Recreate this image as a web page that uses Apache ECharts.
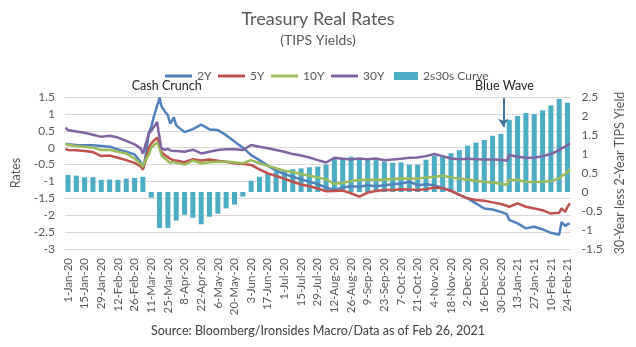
<!DOCTYPE html>
<html><head><meta charset="utf-8">
<script src="https://cdn.jsdelivr.net/npm/echarts@6/dist/echarts.min.js"></script>
<style>html,body{margin:0;padding:0;background:#fff}#c{width:636px;height:347px}</style>
</head><body><div id="c"></div>
<script>
// ---------- data ----------
const tickLabels = ['1-Jan-20','15-Jan-20','29-Jan-20','12-Feb-20','26-Feb-20','11-Mar-20','25-Mar-20','8-Apr-20','22-Apr-20','6-May-20','20-May-20','3-Jun-20','17-Jun-20','1-Jul-20','15-Jul-20','29-Jul-20','12-Aug-20','26-Aug-20','9-Sep-20','23-Sep-20','7-Oct-20','21-Oct-20','4-Nov-20','18-Nov-20','2-Dec-20','16-Dec-20','30-Dec-20','13-Jan-21','27-Jan-21','10-Feb-21','24-Feb-21'];

const weekDates = ['2020-01-01','2020-01-08','2020-01-15','2020-01-22','2020-01-29','2020-02-05','2020-02-12','2020-02-19','2020-02-26','2020-03-04',
'2020-03-11','2020-03-18','2020-03-25','2020-04-01','2020-04-08','2020-04-15','2020-04-22','2020-04-29','2020-05-06','2020-05-13',
'2020-05-20','2020-05-27','2020-06-03','2020-06-10','2020-06-17','2020-06-24','2020-07-01','2020-07-08','2020-07-15','2020-07-22',
'2020-07-29','2020-08-05','2020-08-12','2020-08-19','2020-08-26','2020-09-02','2020-09-09','2020-09-16','2020-09-23','2020-09-30',
'2020-10-07','2020-10-14','2020-10-21','2020-10-28','2020-11-04','2020-11-11','2020-11-18','2020-11-25','2020-12-02','2020-12-09',
'2020-12-16','2020-12-23','2020-12-30','2021-01-06','2021-01-13','2021-01-20','2021-01-27','2021-02-03','2021-02-10','2021-02-17',
'2021-02-24'];
const curve2s30s = [0.45,0.43,0.39,0.39,0.32,0.33,0.32,0.35,0.37,0.40,
-0.15,-0.95,-0.95,-0.75,-0.60,-0.68,-0.85,-0.65,-0.57,-0.43,
-0.33,-0.12,0.30,0.40,0.49,0.53,0.58,0.60,0.62,0.65,
0.67,0.72,0.89,0.90,0.93,0.86,0.84,0.84,0.80,0.77,
0.78,0.72,0.72,0.85,0.95,0.95,1.02,1.10,1.22,1.30,
1.37,1.48,1.53,1.90,2.00,2.08,2.05,2.15,2.28,2.45,
2.35];

const lineDates = ['2019-12-30','2020-01-01','2020-01-08','2020-01-15','2020-01-22','2020-01-29','2020-02-05','2020-02-12','2020-02-19','2020-02-26',
'2020-03-02','2020-03-04','2020-03-06','2020-03-09','2020-03-11','2020-03-13','2020-03-16','2020-03-17','2020-03-18','2020-03-19',
'2020-03-20','2020-03-23','2020-03-25','2020-03-27','2020-03-30','2020-04-01','2020-04-08','2020-04-15','2020-04-22','2020-04-29',
'2020-05-06','2020-05-13','2020-05-20','2020-05-27','2020-06-03','2020-06-10','2020-06-17','2020-06-24','2020-07-01','2020-07-08',
'2020-07-15','2020-07-22','2020-07-29','2020-08-05','2020-08-12','2020-08-19','2020-08-26','2020-09-02','2020-09-09','2020-09-16',
'2020-09-23','2020-09-30','2020-10-07','2020-10-14','2020-10-21','2020-10-28','2020-11-04','2020-11-11','2020-11-18','2020-11-25',
'2020-12-02','2020-12-09','2020-12-16','2020-12-23','2020-12-30','2021-01-04','2021-01-06','2021-01-13','2021-01-20','2021-01-27',
'2021-02-03','2021-02-10','2021-02-17','2021-02-19','2021-02-22','2021-02-24','2021-02-26'];

const y2 = [0.12,0.10,0.08,0.07,0.07,0.05,0.03,-0.05,-0.12,-0.20,
-0.42,-0.60,-0.30,0.45,0.60,0.90,1.25,1.35,1.48,1.30,
1.20,1.05,0.96,0.71,0.90,0.66,0.46,0.55,0.68,0.54,
0.52,0.37,0.18,0.00,-0.22,-0.37,-0.53,-0.68,-0.78,-0.86,
-0.94,-1.01,-1.08,-1.18,-1.25,-1.18,-1.14,-1.16,-1.11,-1.14,
-1.11,-1.08,-1.06,-1.01,-1.11,-1.08,-1.11,-1.20,-1.27,-1.40,
-1.50,-1.65,-1.80,-1.83,-1.90,-1.97,-2.14,-2.24,-2.39,-2.34,
-2.42,-2.52,-2.58,-2.20,-2.32,-2.26,-2.25];

const y5 = [-0.03,-0.07,-0.08,-0.10,-0.13,-0.25,-0.23,-0.30,-0.37,-0.45,
-0.55,-0.65,-0.42,0.00,0.12,0.20,0.30,0.25,0.12,-0.05,
-0.15,-0.23,-0.28,-0.33,-0.38,-0.38,-0.43,-0.34,-0.38,-0.35,
-0.39,-0.42,-0.46,-0.48,-0.51,-0.64,-0.76,-0.84,-0.92,-1.01,
-1.09,-1.14,-1.21,-1.29,-1.28,-1.27,-1.35,-1.45,-1.33,-1.28,
-1.25,-1.25,-1.23,-1.24,-1.25,-1.23,-1.18,-1.20,-1.28,-1.40,
-1.50,-1.55,-1.57,-1.62,-1.67,-1.72,-1.75,-1.65,-1.75,-1.80,
-1.85,-1.95,-1.93,-1.80,-1.90,-1.75,-1.65];

const y10 = [0.12,0.08,0.05,0.03,0.00,-0.07,-0.06,-0.12,-0.17,-0.33,
-0.47,-0.57,-0.38,-0.20,0.00,0.07,0.15,0.10,0.00,-0.15,
-0.25,-0.33,-0.40,-0.45,-0.42,-0.45,-0.50,-0.38,-0.46,-0.43,
-0.42,-0.42,-0.43,-0.46,-0.37,-0.46,-0.54,-0.61,-0.68,-0.72,
-0.78,-0.83,-0.88,-0.94,-1.07,-1.04,-0.99,-0.96,-0.94,-0.96,
-0.94,-0.93,-0.91,-0.92,-0.91,-0.88,-0.86,-0.83,-0.88,-0.92,
-0.94,-0.98,-1.01,-1.03,-1.07,-1.10,-0.96,-0.96,-1.01,-1.02,
-1.01,-0.99,-0.91,-0.84,-0.78,-0.71,-0.64];

const y30 = [0.59,0.52,0.48,0.44,0.38,0.32,0.35,0.30,0.20,0.10,
-0.02,-0.18,0.07,0.41,0.50,0.60,0.76,0.50,0.30,0.05,
-0.03,-0.07,-0.03,-0.08,-0.10,-0.10,-0.12,-0.06,-0.17,-0.12,
-0.07,-0.05,-0.05,-0.07,0.08,0.03,-0.02,-0.07,-0.12,-0.19,
-0.23,-0.29,-0.37,-0.44,-0.30,-0.33,-0.35,-0.32,-0.34,-0.32,
-0.37,-0.35,-0.33,-0.30,-0.29,-0.25,-0.19,-0.25,-0.32,-0.34,
-0.33,-0.34,-0.35,-0.35,-0.36,-0.39,-0.22,-0.27,-0.30,-0.30,
-0.25,-0.19,-0.07,-0.02,0.03,0.08,0.13];

// ---------- axis categories: every calendar day ----------
const axisStartUTC = Date.UTC(2019, 11, 30);
const axisDayCount = 425;
const firstLabelIndex = 2; // 2020-01-01
const labelEvery = 14;
const categories = [];
for (let i = 0; i < axisDayCount; i++) {
  categories.push(new Date(axisStartUTC + i * 86400000).toISOString().slice(0, 10));
}
const pairs = (dates, vals) => dates.map((d, i) => [d, vals[i]]);

const FONT = 'Lato';
const GREY = '#595959';

const lineLegend = (name, left) => ({
  data: [name], left: left, top: 65,
  icon: 'rect', itemWidth: 27, itemHeight: 3,
  textStyle: { fontFamily: FONT, fontSize: 12, color: GREY }
});

const option = {
  animation: false,
  textStyle: { fontFamily: FONT },
  title: {
    text: 'Treasury Real Rates',
    subtext: '(TIPS Yields)',
    left: 'center',
    top: 5,
    itemGap: 5,
    textStyle: { fontFamily: FONT, fontSize: 18, fontWeight: 'normal', color: GREY },
    subtextStyle: { fontFamily: FONT, fontSize: 14, color: GREY }
  },
  legend: [
    lineLegend('2Y', 160),
    lineLegend('5Y', 213),
    lineLegend('10Y', 266),
    lineLegend('30Y', 326),
    {
      data: ['2s30s Curve'], left: 389, top: 65,
      icon: 'rect', itemWidth: 24, itemHeight: 8,
      textStyle: { fontFamily: FONT, fontSize: 12, color: GREY }
    }
  ],
  grid: { left: 65, right: 65.5, top: 97, bottom: 98, containLabel: false },
  xAxis: {
    type: 'category',
    data: categories,
    boundaryGap: true,
    axisLine: { show: true, lineStyle: { color: '#D9D9D9' } },
    axisTick: { show: false },
    splitLine: { show: false },
    axisLabel: {
      rotate: 90,
      margin: 9,
      fontSize: 11.5,
      color: GREY,
      fontFamily: FONT,
      interval: (idx) => idx >= firstLabelIndex && (idx - firstLabelIndex) % labelEvery === 0,
      formatter: (val, idx) => tickLabels[(idx - firstLabelIndex) / labelEvery] || ''
    }
  },
  yAxis: [
    {
      type: 'value', min: -3, max: 1.5, interval: 0.5,
      name: 'Rates', nameLocation: 'middle', nameRotate: 90, nameGap: 33,
      nameTextStyle: { fontFamily: FONT, fontSize: 12.5, color: GREY },
      axisLine: { show: false }, axisTick: { show: false },
      axisLabel: { fontSize: 12, color: GREY, margin: 10, fontFamily: FONT },
      splitLine: { lineStyle: { color: '#D9D9D9', width: 1 } }
    },
    {
      type: 'value', min: -1.5, max: 2.5, interval: 0.5, position: 'right',
      name: '30-Year less 2-Year TIPS Yield', nameLocation: 'middle', nameRotate: 90, nameGap: 33,
      nameTextStyle: { fontFamily: FONT, fontSize: 12.5, color: GREY },
      axisLine: { show: false }, axisTick: { show: false },
      axisLabel: { fontSize: 12, color: GREY, margin: 11, fontFamily: FONT },
      splitLine: { show: false }
    }
  ],
  series: [
    {
      name: '2s30s Curve', type: 'bar', yAxisIndex: 1, z: 1,
      data: pairs(weekDates, curve2s30s),
      barWidth: 5,
      itemStyle: { color: '#4BACC6' },
      markLine: {
        silent: true,
        symbol: ['none', 'arrow'], symbolSize: 8,
        lineStyle: { color: '#41719C', width: 2, type: 'solid' },
        label: { show: false },
        data: [[{ coord: ['2021-01-01', 2.47] }, { coord: ['2021-01-01', 1.72] }]]
      }
    },
    { name: '2Y', type: 'line', z: 2, data: pairs(lineDates, y2), showSymbol: false, symbol: 'none',
      lineStyle: { width: 2.5, color: '#4F81BD' }, itemStyle: { color: '#4F81BD' } },
    { name: '5Y', type: 'line', z: 2, data: pairs(lineDates, y5), showSymbol: false, symbol: 'none',
      lineStyle: { width: 2.5, color: '#C0504D' }, itemStyle: { color: '#C0504D' } },
    { name: '10Y', type: 'line', z: 2, data: pairs(lineDates, y10), showSymbol: false, symbol: 'none',
      lineStyle: { width: 2.5, color: '#9BBB59' }, itemStyle: { color: '#9BBB59' } },
    { name: '30Y', type: 'line', z: 2, data: pairs(lineDates, y30), showSymbol: false, symbol: 'none',
      lineStyle: { width: 2.5, color: '#8064A2' }, itemStyle: { color: '#8064A2' } }
  ]
};

const chart = echarts.init(document.getElementById('c'), null, { renderer: 'canvas' });
chart.setOption(option);

const xOf = (d) => chart.convertToPixel({ xAxisIndex: 0 }, d);
chart.setOption({
  graphic: [
    { type: 'text', x: xOf('2020-03-24'), y: 86,
      style: { text: 'Cash Crunch', font: '12.5px ' + FONT, fill: '#262626', align: 'center', verticalAlign: 'middle' } },
    { type: 'text', x: xOf('2021-01-02'), y: 86,
      style: { text: 'Blue Wave', font: '12.5px ' + FONT, fill: '#262626', align: 'center', verticalAlign: 'middle' } },
    { type: 'text', left: 'center', y: 331,
      style: { text: 'Source: Bloomberg/Ironsides Macro/Data as of Feb 26, 2021', font: '12.5px ' + FONT, fill: '#404040', verticalAlign: 'middle' } }
  ]
});
</script>
</body></html>
